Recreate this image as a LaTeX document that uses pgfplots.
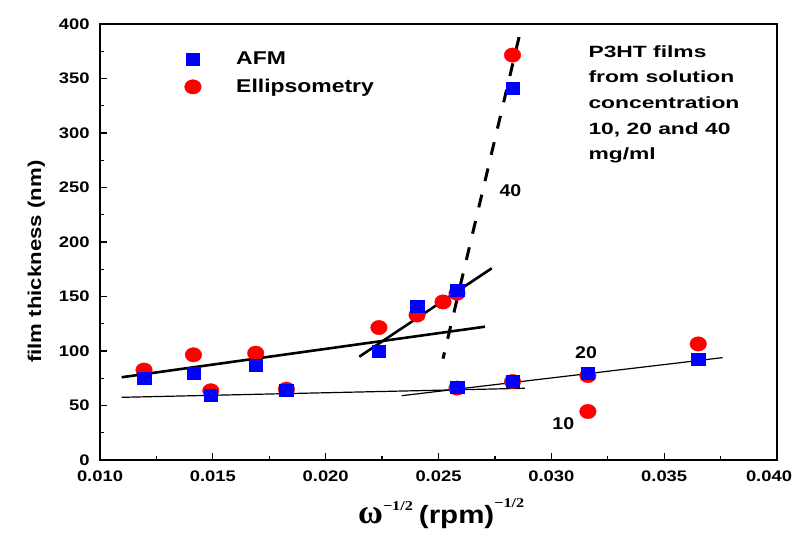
\documentclass[border=0pt]{standalone}
\usepackage{pgfplots}
\pgfplotsset{compat=1.18}
\usepackage{fontspec}
\setmainfont{Liberation Sans}
\newfontfamily\lserif{Liberation Serif}
\newcommand{\wx}[1]{\scalebox{1.2}[1]{#1}}
\begin{document}
\begin{tikzpicture}
\useasboundingbox (0,0) rectangle (798pt,536pt);
\begin{axis}[
  at={(100pt,76pt)}, anchor=south west,
  scale only axis, width=677pt, height=436pt,
  xmin=0.010, xmax=0.040, ymin=0, ymax=400,
  xtick={0.010,0.015,0.020,0.025,0.030,0.035,0.040},
  xticklabels={\wx{0.010},\wx{0.015},\wx{0.020},\wx{0.025},\wx{0.030},\wx{0.035},\hspace*{-16pt}\wx{0.040}},
  ytick={0,50,100,150,200,250,300,350,400},
  minor x tick num=1, minor y tick num=1,
  scaled x ticks=false,
  tick align=inside, xtick pos=lower, ytick pos=left,
  major tick length=7pt, minor tick length=4pt,
  every tick/.style={black, line width=1.2pt},
  axis line style={line width=1.6pt},
  /pgf/number format/assume math mode=true,
  yticklabel={\wx{\pgfmathprintnumber[fixed,precision=0]{\tick}}},
  tick label style={font=\fontsize{15.3}{15.3}\selectfont\bfseries},
  xticklabel style={yshift=-7pt},
  yticklabel style={xshift=-7pt},
  ylabel={\scalebox{1.2}[1]{film thickness (nm)}},
  ylabel style={font=\fontsize{18.5}{18.5}\selectfont\bfseries, at={(ticklabel cs:0.455)}, anchor=south, yshift=7pt},
  xlabel={{\fontsize{34}{34}\selectfont\lserif\bfseries ω}\raisebox{13pt}{\scalebox{1.2}[1]{\fontsize{13.5}{13.5}\selectfont\lserif\bfseries −1/2}}\hspace{6pt}\scalebox{1.18}[1]{\fontsize{25}{25}\selectfont\bfseries (rpm)}\raisebox{16pt}{\scalebox{1.2}[1]{\fontsize{13.5}{13.5}\selectfont\lserif\bfseries −1/2}}},
  xlabel style={at={(ticklabel cs:0.504)}, anchor=north, yshift=-10pt},
  legend style={at={(axis cs:0.01361,378)}, anchor=north west, draw=none, fill=none,
    font=\fontsize{18.5}{18.5}\selectfont\bfseries, row sep=9pt,
    /tikz/every odd column/.append style={column sep=33pt}},
  legend cell align=left,
]
\addlegendimage{only marks, mark=square*, color=blue, mark size=6pt, mark options={xscale=1.12}}
\addlegendentry{\scalebox{1.24}[1]{AFM}}
\addlegendimage{only marks, mark=*, color=red, mark size=7.2pt, mark options={xscale=1.15}}
\addlegendentry{\scalebox{1.24}[1]{Ellipsometry}}

% fitted lines
\addplot[black, line width=2.6pt, forget plot] coordinates {(0.01096,75.9) (0.02706,122.3)};
\addplot[black, line width=2.6pt, forget plot] coordinates {(0.02149,94.8) (0.02736,175.9)};
\addplot[black, line width=1.2pt, forget plot] coordinates {(0.01096,57.5) (0.02883,65.8)};
\addplot[black, line width=1.2pt, forget plot] coordinates {(0.02337,59.0) (0.03759,93.9)};
\addplot[black, line width=3pt, dash pattern=on 13pt off 14pt, forget plot] coordinates {(0.02857,388) (0.02520,93)};

% Ellipsometry
\addplot[only marks, mark=*, color=red, mark size=7.2pt, mark options={xscale=1.15}, forget plot] coordinates {
(0.01195,82.5) (0.01414,96.5) (0.01491,63.5) (0.01690,98) (0.01826,65)
(0.02236,121.5) (0.02405,133) (0.02520,145) (0.02582,153) (0.02582,66)
(0.02828,72) (0.03162,77.5) (0.03162,44.5) (0.03651,106.5) (0.02828,371.5)};

% AFM
\addplot[only marks, mark=square*, color=blue, mark size=6pt, mark options={xscale=1.12}, forget plot] coordinates {
(0.01195,75) (0.01414,79.5) (0.01491,59) (0.01690,87) (0.01826,64)
(0.02236,99.5) (0.02405,141) (0.02582,156) (0.02582,66.5) (0.02828,72.5)
(0.03162,80) (0.03651,92.5) (0.02828,341.5)};

\node[font=\fontsize{17}{17}\selectfont\bfseries] at (axis cs:0.02819,247) {\scalebox{1.15}[1]{40}};
\node[font=\fontsize{17}{17}\selectfont\bfseries] at (axis cs:0.03154,98.6) {\scalebox{1.15}[1]{20}};
\node[font=\fontsize{17}{17}\selectfont\bfseries] at (axis cs:0.03053,33.7) {\scalebox{1.15}[1]{10}};
\node[anchor=north west, inner sep=0pt, font=\fontsize{16.3}{25.6}\selectfont\bfseries] at (axis cs:0.03164,386)
  {\scalebox{1.4}[1]{\begin{tabular}{@{}l@{}}P3HT films\\ from solution\\ concentration\\ 10, 20 and 40\\ mg/ml\end{tabular}}};
\end{axis}
\end{tikzpicture}
\end{document}
